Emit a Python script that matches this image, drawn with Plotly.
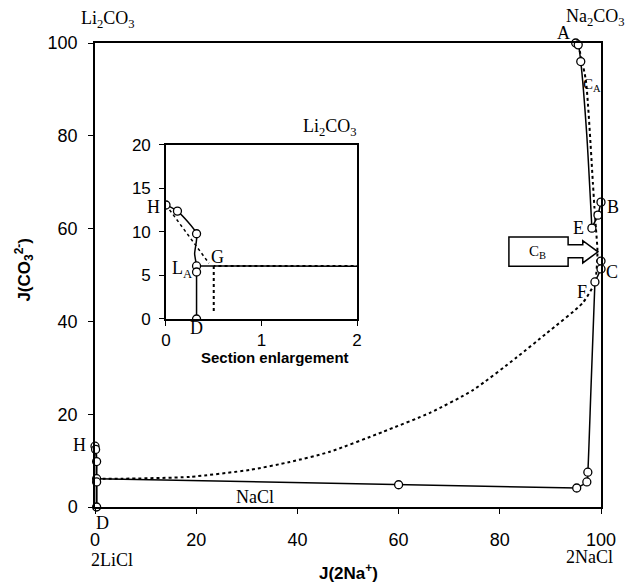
import plotly.graph_objects as go

# ---------------- data ----------------
# experimental points (circles)
pts_x = [95.0, 95.5, 96.0, 100.0, 99.4, 98.2, 100.0, 100.0, 98.8, 97.4, 97.2, 95.2, 60.0,
         0.0, 0.12, 0.32, 0.32, 0.32, 0.32]
pts_y = [100.0, 99.6, 96.0, 65.7, 62.9, 60.1, 53.0, 51.3, 48.5, 7.5, 5.4, 4.1, 4.8,
         13.1, 12.4, 9.8, 6.1, 5.4, 0.0]

# solid curves
ae_x = [95.0, 95.5, 96.0, 97.2, 98.2]
ae_y = [100.0, 99.6, 96.0, 80.0, 60.1]
eb_x = [98.2, 99.4, 100.0]
eb_y = [60.1, 62.9, 65.7]
cf_x = [100.0, 98.8]
cf_y = [51.3, 48.5]
fb_x = [98.8, 98.0, 97.4, 97.2, 95.2]
fb_y = [48.5, 25.0, 7.5, 5.4, 4.1]
nacl_x = [95.2, 60.0, 0.32]
nacl_y = [4.1, 4.8, 6.1]
hd_x = [0.0, 0.12, 0.32, 0.30, 0.32, 0.32, 0.32]
hd_y = [13.1, 12.4, 9.8, 7.5, 6.1, 5.4, 0.0]

# dotted curve
dot_x = [95.5, 97.0, 98.4, 98.7, 99.0, 99.3, 98.8, 96.4, 89.3, 83.4, 74.7, 66.2, 56.9,
         46.4, 38.5, 30.6, 18.8, 5.5, 0.5]
dot_y = [99.6, 92.0, 69.8, 64.6, 60.0, 55.0, 48.5, 44.0, 37.5, 32.3, 25.2, 20.3, 16.2,
         11.9, 9.7, 8.0, 6.5, 6.1, 6.1]
# dotted lines of the enlargement
hg_x = [0.0, 0.45]
hg_y = [13.1, 6.4]
gv_x = [0.5, 0.5]
gv_y = [6.1, 0.8]

main_ticks = [0, 20, 40, 60, 80, 100]
inset_xticks = [0, 1, 2]
inset_yticks = [0, 5, 10, 15, 20]

SERIF = "Liberation Serif"
SANS = "Liberation Sans"
BLACK = "black"

fig = go.Figure()

def add_line(x, y, dash="solid", xa="x", ya="y", shape="spline", width=1.5):
    fig.add_trace(go.Scatter(x=x, y=y, mode="lines", xaxis=xa, yaxis=ya,
                             line=dict(color=BLACK, width=width, dash=dash, shape=shape,
                                       smoothing=0.6),
                             cliponaxis=True, showlegend=False, hoverinfo="skip"))

for xa, ya in [("x", "y"), ("x2", "y2")]:
    add_line(dot_x, dot_y, dash="dot", xa=xa, ya=ya, width=2)
    add_line(ae_x, ae_y, xa=xa, ya=ya)
    add_line(eb_x, eb_y, xa=xa, ya=ya, shape="linear")
    add_line(cf_x, cf_y, xa=xa, ya=ya, shape="linear")
    add_line(fb_x, fb_y, xa=xa, ya=ya)
    add_line(nacl_x, nacl_y, xa=xa, ya=ya, shape="linear")
    add_line(hd_x, hd_y, xa=xa, ya=ya, width=2 if xa == "x" else 1.5)

add_line(hg_x, hg_y, dash="dot", xa="x2", ya="y2", shape="linear", width=1.5)
add_line(gv_x, gv_y, dash="dot", xa="x2", ya="y2", shape="linear", width=2)

for xa, ya in [("x", "y"), ("x2", "y2")]:
    fig.add_trace(go.Scatter(x=pts_x, y=pts_y, mode="markers", xaxis=xa, yaxis=ya,
                             marker=dict(symbol="circle", size=8, color="white",
                                         line=dict(color=BLACK, width=1.3)),
                             cliponaxis=False if xa == "x" else True,
                             showlegend=False, hoverinfo="skip"))

axis_common = dict(showline=True, linecolor=BLACK, linewidth=1.5, mirror=True,
                   ticks="outside", ticklen=5, tickcolor=BLACK, showgrid=False,
                   zeroline=False, automargin=False,
                   tickfont=dict(family=SANS, size=18, color=BLACK))
inset_common = dict(axis_common, tickfont=dict(family=SANS, size=17, color=BLACK))

# the page body adds an 8px offset, so the figure is 8px smaller than the window
fig.update_layout(
    width=626, height=574,
    margin=dict(l=87, r=33, t=35, b=75),
    paper_bgcolor="white", plot_bgcolor="white",
    xaxis=dict(range=[0, 100], tickvals=main_ticks, domain=[0, 1],
               ticklabelstandoff=11, **axis_common),
    yaxis=dict(range=[0, 100], tickvals=main_ticks, domain=[0, 1],
               ticklabelstandoff=7, **axis_common),
    xaxis2=dict(range=[0, 2], tickvals=inset_xticks, domain=[0.1403, 0.5178], anchor="y2",
                ticklabelstandoff=0, **inset_common),
    yaxis2=dict(range=[0, 20], tickvals=inset_yticks, domain=[0.4052, 0.7802], anchor="x2",
                ticklabelstandoff=5, **inset_common),
)

def label(text, x, y, size=18, xref="paper", yref="paper", family=SERIF, angle=0):
    fig.add_annotation(text=text, x=x, y=y, xref=xref, yref=yref, showarrow=False,
                       font=dict(family=family, size=size, color=BLACK),
                       xanchor="center", yanchor="middle", textangle=angle)

# axis titles
label("<b>J(2Na<sup>+</sup>)</b>", 0.50, -0.140, size=17, family=SANS)
label("<b>J(CO<sub>3</sub><sup>2-</sup>)</b>", -0.140, 0.512, size=17, family=SANS, angle=-90)
label("<b>Section enlargement</b>", 0.356, 0.3223, size=15, family=SANS)

# corner / region labels (main plot)
label("Li<sub>2</sub>CO<sub>3</sub>", 0.026, 1.050)
label("Na<sub>2</sub>CO<sub>3</sub>", 0.990, 1.055)
label("A", 0.925, 1.021)
label("C<sub>A</sub>", 0.982, 0.909, size=15)
label("B", 1.024, 0.647)
label("E", 0.955, 0.601)
label("C", 1.022, 0.506)
label("F", 0.962, 0.463)
label("H", -0.030, 0.134)
label("D", 0.014, -0.034)
label("2LiCl", 0.034, -0.114)
label("2NaCl", 0.978, -0.108)
label("NaCl", 0.316, 0.022)
label("Li<sub>2</sub>CO<sub>3</sub>", 0.464, 0.817)

# labels of the enlargement
label("H", 0.115, 0.647)
label("G", 0.243, 0.539)
label("L<sub>A</sub>", 0.172, 0.511)
label("D", 0.200, 0.386)

# C_B block arrow
cb_path = ("M 81.8 58.2 L 93.5 58.2 L 93.5 56.5 L 96.4 56.5 L 96.4 57.4 L 99.4 55.0 "
           "L 96.4 52.6 L 96.4 53.7 L 93.5 53.7 L 93.5 51.9 L 81.8 51.9 Z")
fig.add_shape(type="path", path=cb_path, xref="x", yref="y",
              line=dict(color=BLACK, width=1.5), fillcolor="white", layer="above")
fig.add_annotation(text="C<sub>B</sub>", x=87.4, y=55.0, xref="x", yref="y", showarrow=False,
                   font=dict(family=SERIF, size=15, color=BLACK))

fig.write_html("out.html")
